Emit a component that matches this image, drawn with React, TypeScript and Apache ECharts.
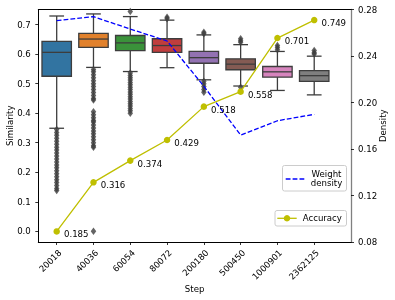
import React, { useEffect, useRef } from "react";
import * as echarts from "echarts";

const categories = ["20018", "40036", "60054", "80072", "200180", "500450", "1000901", "2362125"];
// [lower whisker, Q1, median, Q3, upper whisker]
const boxes = [
  [0.349, 0.525, 0.606, 0.643, 0.729],
  [0.555, 0.623, 0.651, 0.670, 0.736],
  [0.541, 0.612, 0.638, 0.663, 0.727],
  [0.554, 0.606, 0.629, 0.652, 0.715],
  [0.513, 0.569, 0.588, 0.609, 0.665],
  [0.492, 0.547, 0.566, 0.584, 0.632],
  [0.477, 0.522, 0.540, 0.558, 0.609],
  [0.462, 0.508, 0.527, 0.544, 0.593],
];
const outliers = [
  [0.345, 0.335, 0.325, 0.315, 0.305, 0.295, 0.285, 0.275, 0.265, 0.255, 0.245, 0.235, 0.225, 0.215, 0.205, 0.195, 0.185, 0.175, 0.165, 0.155, 0.145, 0.138],
  [0.548, 0.54, 0.53, 0.52, 0.51, 0.5, 0.49, 0.48, 0.47, 0.46, 0.45, 0.445, 0.405, 0.395, 0.385, 0.375, 0.37, 0.36, 0.35, 0.34, 0.33, 0.32, 0.31, 0.3, 0.29, 0.285, 0.0],
  [0.744, 0.536, 0.528, 0.52, 0.512, 0.504, 0.496, 0.488, 0.48, 0.472, 0.464, 0.456, 0.448, 0.44, 0.432, 0.424, 0.416, 0.408, 0.4],
  [0.725, 0.72],
  [0.674, 0.669, 0.508, 0.5, 0.49, 0.48, 0.471],
  [0.652, 0.645, 0.64, 0.488],
  [0.629, 0.622, 0.615],
  [0.612, 0.605, 0.6],
];
const density = [0.2704, 0.2738, 0.2632, 0.2529, 0.214, 0.172, 0.1843, 0.1898];
const accuracy = [0.185, 0.316, 0.374, 0.429, 0.518, 0.558, 0.701, 0.749];
const simTicks = [0, 0.1, 0.2, 0.3, 0.4, 0.5, 0.6, 0.7];
const densityTicks = [0.08, 0.12, 0.16, 0.2, 0.24, 0.28];

const palette = ["#3274a1", "#e1812c", "#3a923a", "#c03d3e", "#9372b2", "#845b53", "#d684bd", "#7f7f7f"];
const GRAY = "#3d3d3d";
const FONT = "DejaVu Sans";
const FS = 8.6;
const ACC = "#bfbf00";

export default function App() {
  const ref = useRef<HTMLDivElement>(null);
  useEffect(() => {
    if (!ref.current) return;
    const chart = echarts.init(ref.current, null, { renderer: "svg" });
    const idx = categories.map((_, i) => i);
    const boxData = boxes.map((b, i) => [i, ...b]);
    const outlierData: number[][] = [];
    outliers.forEach((arr, i) => arr.forEach((v) => outlierData.push([i, v])));
    const boxW = 0.8;
    const lw = 1.3;
    const nameStyle = { fontSize: FS, color: "#000", fontFamily: FONT };

    chart.setOption({
      animation: false,
      textStyle: { fontFamily: FONT },
      grid: { left: 38.3, right: 44, top: 9.5, bottom: 58, outerBoundsMode: "none" },
      xAxis: [
        {
          type: "value",
          min: -0.5,
          max: 8,
          position: "bottom",
          name: "Step",
          nameLocation: "middle",
          nameGap: 42,
          nameMoveOverlap: false,
          nameTextStyle: nameStyle,
          axisLine: { show: true, onZero: false, lineStyle: { color: "#000", width: 1 } },
          axisTick: { show: true, customValues: idx, length: 3, lineStyle: { color: "#000", width: 0.8 } },
          axisLabel: {
            customValues: idx,
            formatter: (v: number) => categories[Math.round(v)] ?? "",
            rotate: 45,
            align: "right",
            verticalAlign: "top",
            margin: 6,
            fontSize: FS,
            color: "#000",
            fontFamily: FONT,
          },
          splitLine: { show: false },
        },
        {
          type: "value",
          min: -0.5,
          max: 8,
          position: "top",
          axisLine: { show: true, onZero: false, lineStyle: { color: "#000", width: 1 } },
          axisTick: { show: false },
          axisLabel: { show: false },
          splitLine: { show: false },
        },
      ],
      yAxis: [
        {
          type: "value",
          min: -0.036,
          max: 0.751,
          position: "left",
          name: "Similarity",
          nameLocation: "middle",
          nameRotate: 90,
          nameGap: 24,
          nameMoveOverlap: false,
          nameTextStyle: nameStyle,
          axisLine: { show: true, onZero: false, lineStyle: { color: "#000", width: 1 } },
          axisTick: { show: true, customValues: simTicks, length: 3, lineStyle: { color: "#000", width: 0.8 } },
          axisLabel: {
            customValues: simTicks,
            formatter: (v: number) => v.toFixed(1),
            margin: 7.5,
            fontSize: FS,
            color: "#000",
            fontFamily: FONT,
          },
          splitLine: { show: false },
        },
        {
          type: "value",
          min: 0.08,
          max: 0.28,
          position: "right",
          name: "Density",
          nameLocation: "middle",
          nameRotate: 90,
          nameGap: 27,
          nameMoveOverlap: false,
          nameTextStyle: nameStyle,
          axisLine: { show: true, onZero: false, lineStyle: { color: "#808080", width: 1.3 } },
          axisTick: { show: true, customValues: densityTicks, length: 3, lineStyle: { color: "#000", width: 0.8 } },
          axisLabel: {
            customValues: densityTicks,
            formatter: (v: number) => v.toFixed(2),
            margin: 7,
            fontSize: FS,
            color: "#000",
            fontFamily: FONT,
          },
          splitLine: { show: false },
        },
        {
          type: "value",
          min: 0.1568,
          max: 0.7772,
          show: false,
          axisLine: { onZero: false },
          splitLine: { show: false },
        },
      ],
      series: [
        {
          type: "custom",
          xAxisIndex: 0,
          yAxisIndex: 0,
          data: boxData,
          encode: { x: 0, y: [1, 2, 3, 4, 5] },
          z: 2,
          renderItem: (params: any, api: any) => {
            const x = api.value(0);
            const lo = api.coord([x, api.value(1)]);
            const q1 = api.coord([x, api.value(2)]);
            const md = api.coord([x, api.value(3)]);
            const q3 = api.coord([x, api.value(4)]);
            const hi = api.coord([x, api.value(5)]);
            const w = api.size([boxW, 0])[0];
            const cx = lo[0];
            const st = { stroke: GRAY, lineWidth: lw };
            return {
              type: "group",
              children: [
                { type: "line", shape: { x1: cx, y1: lo[1], x2: cx, y2: q1[1] }, style: st },
                { type: "line", shape: { x1: cx, y1: hi[1], x2: cx, y2: q3[1] }, style: st },
                { type: "line", shape: { x1: cx - w / 4, y1: lo[1], x2: cx + w / 4, y2: lo[1] }, style: st },
                { type: "line", shape: { x1: cx - w / 4, y1: hi[1], x2: cx + w / 4, y2: hi[1] }, style: st },
                {
                  type: "rect",
                  shape: { x: cx - w / 2, y: q3[1], width: w, height: q1[1] - q3[1] },
                  style: { fill: palette[params.dataIndex], stroke: GRAY, lineWidth: lw },
                },
                { type: "line", shape: { x1: cx - w / 2, y1: md[1], x2: cx + w / 2, y2: md[1] }, style: st },
              ],
            };
          },
        },
        {
          type: "scatter",
          xAxisIndex: 0,
          yAxisIndex: 0,
          data: outlierData,
          symbol: "diamond",
          symbolSize: [5.5, 7.5],
          itemStyle: { color: GRAY },
          z: 3,
        },
        {
          type: "line",
          name: "Weight density",
          xAxisIndex: 0,
          yAxisIndex: 1,
          data: density.map((v, i) => [i, v]),
          symbol: "none",
          lineStyle: { color: "#0000ff", width: 1.3, type: [4.8, 2.1] },
          z: 4,
        },
        {
          type: "line",
          name: "Accuracy",
          xAxisIndex: 0,
          yAxisIndex: 2,
          data: accuracy.map((v, i) => [i, v]),
          symbol: "circle",
          symbolSize: 6.5,
          itemStyle: { color: ACC },
          lineStyle: { color: ACC, width: 1.3 },
          label: {
            show: true,
            position: "right",
            distance: 4,
            offset: [0, 3],
            formatter: (p: any) => p.value[1].toFixed(3),
            fontSize: FS,
            color: "#000",
            fontFamily: FONT,
          },
          z: 5,
        },
      ],
      graphic: [
        {
          type: "group",
          z: 100,
          children: [
            {
              type: "rect",
              shape: { x: 282.5, y: 165.5, width: 64, height: 25.5, r: 2 },
              style: { fill: "rgba(255,255,255,0.8)", stroke: "#cccccc", lineWidth: 1 },
            },
            {
              type: "line",
              shape: { x1: 285.7, y1: 179, x2: 304.3, y2: 179 },
              style: { stroke: "#0000ff", lineWidth: 1.3, lineDash: [4.8, 2.1] },
            },
            {
              type: "text",
              x: 326.5,
              y: 178.3,
              style: {
                text: "Weight\ndensity",
                fontSize: FS,
                fontFamily: FONT,
                fill: "#000",
                align: "center",
                verticalAlign: "middle",
                lineHeight: 9.6,
              },
            },
            {
              type: "rect",
              shape: { x: 275, y: 210.5, width: 71.5, height: 15.5, r: 2 },
              style: { fill: "rgba(255,255,255,0.8)", stroke: "#cccccc", lineWidth: 1 },
            },
            {
              type: "line",
              shape: { x1: 277.3, y1: 218.3, x2: 296.7, y2: 218.3 },
              style: { stroke: ACC, lineWidth: 1.3 },
            },
            {
              type: "circle",
              shape: { cx: 287, cy: 218.3, r: 3.25 },
              style: { fill: ACC },
            },
            {
              type: "text",
              x: 302.7,
              y: 218.3,
              style: {
                text: "Accuracy",
                fontSize: FS,
                fontFamily: FONT,
                fill: "#000",
                align: "left",
                verticalAlign: "middle",
              },
            },
          ],
        },
      ],
    });
    return () => chart.dispose();
  }, []);
  return <div ref={ref} style={{ width: 395, height: 300, position: "fixed", left: 0, top: 0 }} />;
}
